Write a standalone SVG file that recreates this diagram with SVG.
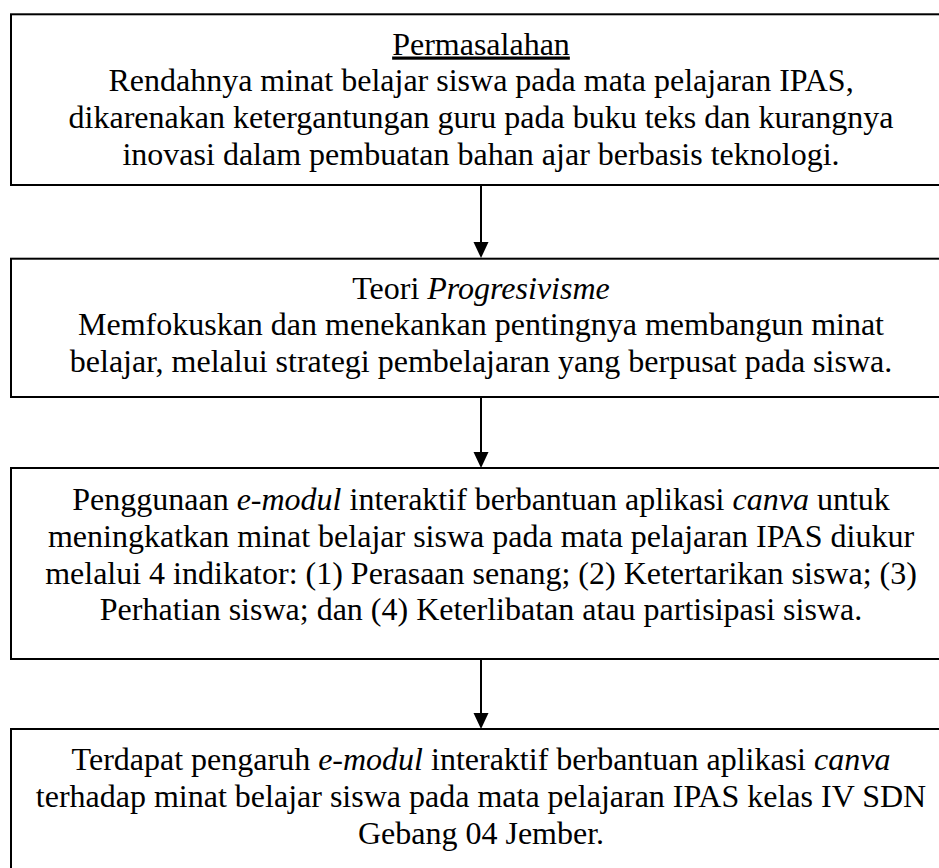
<svg xmlns="http://www.w3.org/2000/svg" width="939" height="868" viewBox="0 0 939 868">
<style>
.box{fill:#fff;stroke:#000;stroke-width:2}
.t{font-family:"Liberation Serif","Times New Roman",serif;font-size:32px;fill:#000;text-anchor:middle}
.i{font-style:italic}
.c{stroke:#000;stroke-width:2;fill:none}
.h{fill:#000;stroke:none}
</style>
<rect width="939" height="868" fill="#fff"/>
<g id="node1">
<rect class="box" x="11" y="14.3" width="940" height="170.7"/>
<text class="t" x="481" y="54.5" text-decoration="underline">Permasalahan</text>
<text class="t" x="481" y="91.3">Rendahnya minat belajar siswa pada mata pelajaran IPAS,</text>
<text class="t" x="481" y="128.1">dikarenakan ketergantungan guru pada buku teks dan kurangnya</text>
<text class="t" x="481" y="164.9">inovasi dalam pembuatan bahan ajar berbasis teknologi.</text>
</g>
<g id="node2">
<rect class="box" x="11" y="258.7" width="940" height="138.3"/>
<text class="t" x="481" y="298.5">Teori <tspan class="i">Progresivisme</tspan></text>
<text class="t" x="481" y="335.3">Memfokuskan dan menekankan pentingnya membangun minat</text>
<text class="t" x="481" y="372.1">belajar, melalui strategi pembelajaran yang berpusat pada siswa.</text>
</g>
<g id="node3">
<rect class="box" x="11" y="468" width="940" height="191"/>
<text class="t" x="481" y="510">Penggunaan <tspan class="i">e-modul</tspan> interaktif berbantuan aplikasi <tspan class="i">canva</tspan> untuk</text>
<text class="t" x="481" y="546.8">meningkatkan minat belajar siswa pada mata pelajaran IPAS diukur</text>
<text class="t" x="481" y="583.6">melalui 4 indikator: (1) Perasaan senang; (2) Ketertarikan siswa; (3)</text>
<text class="t" x="481" y="620.4">Perhatian siswa; dan (4) Keterlibatan atau partisipasi siswa.</text>
</g>
<g id="node4">
<rect class="box" x="11" y="729" width="940" height="150"/>
<text class="t" x="481" y="770">Terdapat pengaruh <tspan class="i">e-modul</tspan> interaktif berbantuan aplikasi <tspan class="i">canva</tspan></text>
<text class="t" x="481" y="806.8">terhadap minat belajar siswa pada mata pelajaran IPAS kelas IV SDN</text>
<text class="t" x="481" y="843.6">Gebang 04 Jember.</text>
</g>
<g id="connectors">
<line class="c" x1="481" y1="185" x2="481" y2="244"/>
<polygon class="h" points="473.5,242 488.5,242 481,258"/>
<line class="c" x1="481" y1="397" x2="481" y2="454"/>
<polygon class="h" points="473.5,452 488.5,452 481,468"/>
<line class="c" x1="481" y1="659" x2="481" y2="715"/>
<polygon class="h" points="473.5,713 488.5,713 481,729"/>
</g>
</svg>
